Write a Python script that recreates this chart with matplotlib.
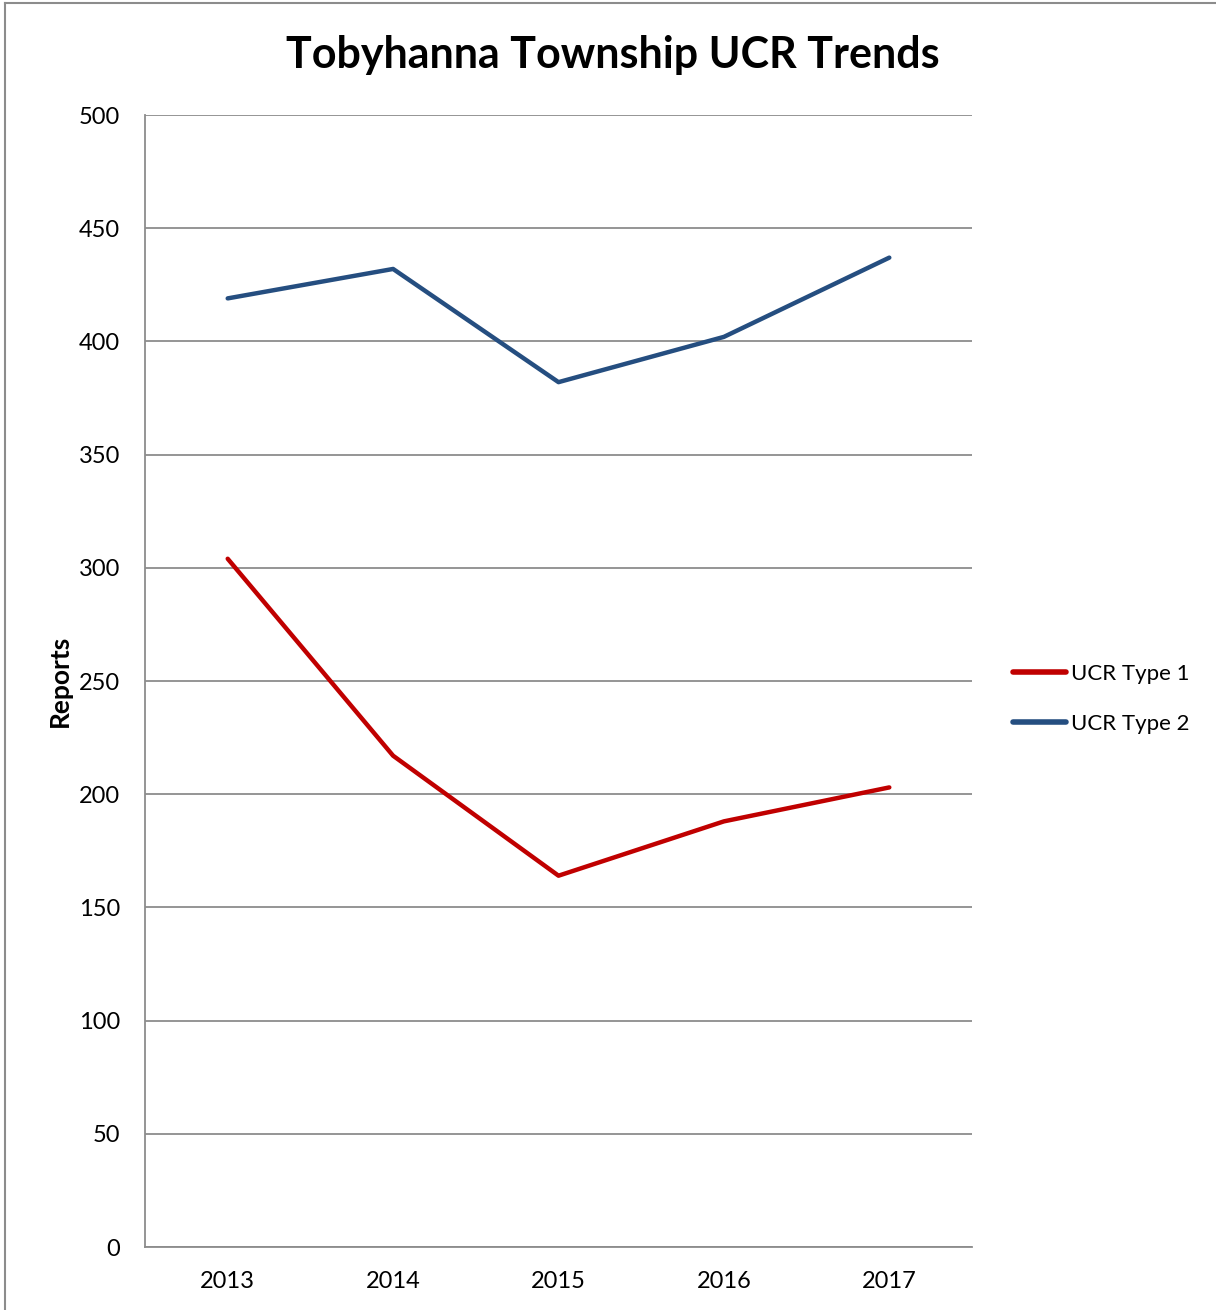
import matplotlib
matplotlib.use("Agg")
import matplotlib.pyplot as plt
from matplotlib.lines import Line2D

# data
years = ["2013", "2014", "2015", "2016", "2017"]
ucr_type1 = [304, 217, 164, 188, 203]
ucr_type2 = [419, 432, 382, 402, 437]
yticks = [0, 50, 100, 150, 200, 250, 300, 350, 400, 450, 500]

plt.rcParams['font.family'] = ['Lato', 'DejaVu Sans']

fig = plt.figure(figsize=(12.16, 13.10), dpi=100)
ax = fig.add_axes([145/1216, 63/1310, 827/1216, 1132/1310])

x = list(range(len(years)))
l1, = ax.plot(x, ucr_type1, color="#C00000", lw=3.2, solid_capstyle="round", label="UCR Type 1")
l2, = ax.plot(x, ucr_type2, color="#254E80", lw=3.2, solid_capstyle="round", label="UCR Type 2")

ax.set_xlim(-0.5, len(years) - 0.5)
ax.set_ylim(0, 500)
ax.set_yticks(yticks)
ax.set_xticks(x)
ax.set_xticklabels(years)
ax.tick_params(axis="both", length=0, labelsize=17)
ax.tick_params(axis="y", pad=18)
ax.tick_params(axis="x", pad=17)
ax.grid(axis="y", color="#8c8c8c", lw=1.3)
ax.set_axisbelow(True)
for s in ["top", "right"]:
    ax.spines[s].set_visible(False)
for s in ["left", "bottom"]:
    ax.spines[s].set_color("#8c8c8c")
    ax.spines[s].set_linewidth(1.3)

ax.set_ylabel("Reports", fontsize=19, fontweight="bold", labelpad=5)
fig.text(613/1216, 1 - 55/1310, "Tobyhanna Township UCR Trends", ha="center", va="center",
         fontsize=31, fontweight="bold")

leg = fig.legend(handles=[l1, l2], loc="center left", bbox_to_anchor=(1013/1216, 1 - 699/1310),
                 frameon=False, fontsize=16, handlelength=2.4, handletextpad=0.2,
                 labelspacing=1.35, borderpad=0, borderaxespad=0)
for h in leg.legend_handles:
    h.set_linewidth(4)

# outer chart border (left and top visible)
fig.add_artist(Line2D([5/1216, 5/1216], [0, 1 - 3/1310], color="#8c8c8c", lw=1.5))
fig.add_artist(Line2D([5/1216, 1], [1 - 3/1310, 1 - 3/1310], color="#8c8c8c", lw=1.5))

fig.savefig("out.png", dpi=100)
